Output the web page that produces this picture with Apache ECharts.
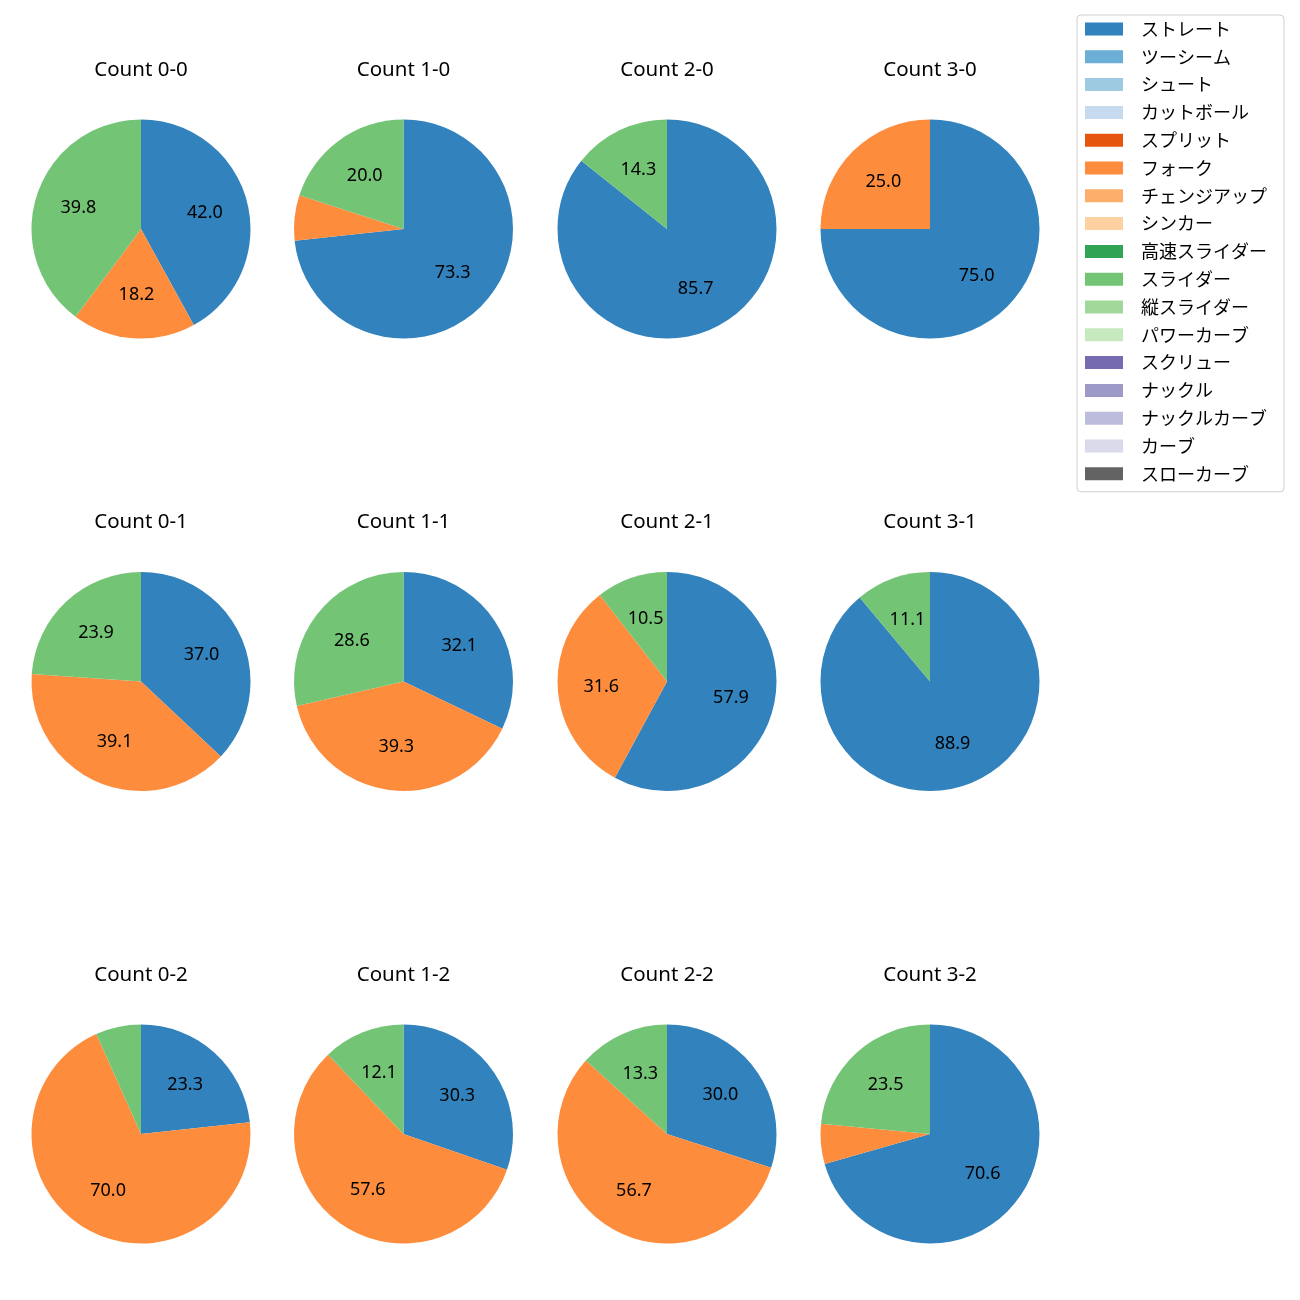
<!DOCTYPE html>
<html>
<head>
<meta charset="utf-8">
<script src="https://cdn.jsdelivr.net/npm/echarts@6/dist/echarts.min.js"></script>
<style>html,body{margin:0;padding:0;background:#fff}#c{width:1300px;height:1300px}</style>
</head>
<body>
<div id="c"></div>
<script>
const categories = ['ストレート','ツーシーム','シュート','カットボール','スプリット','フォーク','チェンジアップ','シンカー','高速スライダー','スライダー','縦スライダー','パワーカーブ','スクリュー','ナックル','ナックルカーブ','カーブ','スローカーブ'];
const colors = ['#3182bd','#6baed6','#9ecae1','#c6dbef','#e6550d','#fd8d3c','#fdae6b','#fdd0a2','#31a354','#74c476','#a1d99b','#c7e9c0','#756bb1','#9e9ac8','#bcbddc','#dadaeb','#636363'];
const counts = ['0-0','1-0','2-0','3-0','0-1','1-1','2-1','3-1','0-2','1-2','2-2','3-2'];
// percentages per count (same order as counts)
const straight = [42.0, 73.3, 85.7, 75.0, 37.0, 32.1, 57.9, 88.9, 23.3, 30.3, 30.0, 70.6];
const fork     = [18.2,  6.7,  0.0, 25.0, 39.1, 39.3, 31.6,  0.0, 70.0, 57.6, 56.7,  5.9];
const slider   = [39.8, 20.0, 14.3,  0.0, 23.9, 28.6, 10.5, 11.1,  6.7, 12.1, 13.3, 23.5];

const colX = [141, 403.5, 667, 930];
const rowY = [229, 681.5, 1134];
const R = 109.5;
const LATIN = '"Noto Sans", sans-serif';
const CJK = '"Noto Sans CJK JP", "Noto Sans", sans-serif';

function valuesFor(i) {
  return categories.map(c => {
    if (c === 'ストレート') return straight[i];
    if (c === 'フォーク') return fork[i];
    if (c === 'スライダー') return slider[i];
    return 0;
  });
}

const titles = [];
const series = [];
const labelSeries = [];
counts.forEach((cnt, i) => {
  const cx = colX[i % 4], cy = rowY[Math.floor(i / 4)];
  titles.push({
    text: 'Count ' + cnt, left: cx, top: cy - 160 - 11, textAlign: 'center',
    padding: 0,
    textStyle: {fontFamily: LATIN, fontSize: 20.5, fontWeight: 'normal', color: '#000', lineHeight: 24}
  });
  const vals = valuesFor(i);
  const data = categories.map((c, k) => ({name: c, value: vals[k], itemStyle: {color: colors[k]}}));
  series.push({
    type: 'pie', center: [cx, cy], radius: [0, R], startAngle: 90, clockwise: true,
    silent: true, animation: false, label: {show: false}, labelLine: {show: false},
    itemStyle: {borderWidth: 0}, emphasis: {disabled: true}, data: data
  });
  labelSeries.push({
    type: 'pie', center: [cx, cy], radius: [R * 0.15, R], startAngle: 90, clockwise: true,
    silent: true, animation: false, legendHoverLink: false,
    itemStyle: {color: 'rgba(0,0,0,0)', borderWidth: 0}, emphasis: {disabled: true},
    label: {show: true, position: 'inside', fontFamily: LATIN, fontSize: 18, color: '#000',
      formatter: p => (p.value >= 8 ? p.value.toFixed(1) : '')},
    labelLine: {show: false},
    data: categories.map((c, k) => ({name: c, value: vals[k]}))
  });
});

const chart = echarts.init(document.getElementById('c'), null, {renderer: 'canvas'});
chart.setOption({
  backgroundColor: '#fff',
  animation: false,
  title: titles,
  legend: {
    orient: 'vertical', left: 1077, top: 15, padding: [5, 17, 9, 8],
    itemWidth: 38, itemHeight: 13, itemGap: 9.8, icon: 'rect',
    borderColor: '#d0d0d0', borderWidth: 1, borderRadius: 4,
    selectedMode: false,
    textStyle: {fontFamily: CJK, fontSize: 18, color: '#000', lineHeight: 16.1, padding: [0, 0, 0, 13]},
    data: categories.map((c, k) => ({name: c, itemStyle: {color: colors[k]}}))
  },
  series: series.concat(labelSeries)
});
</script>
</body>
</html>
